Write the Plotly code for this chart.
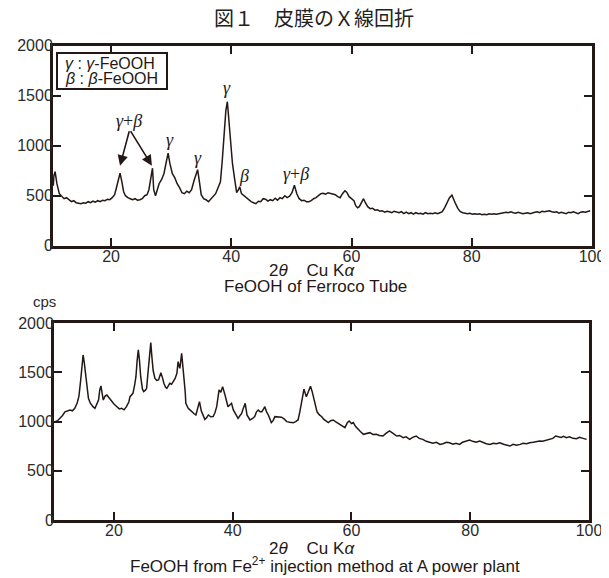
import plotly.graph_objects as go

# ---------------- data ----------------
top_x = [10.4, 10.5, 10.7, 11.0, 11.4, 11.8, 12.2, 12.6, 13.0, 13.4, 13.8, 14.2, 14.6, 15.0, 15.4, 15.8,
         16.2, 16.6, 17.0, 17.4, 17.8, 18.2, 18.6, 19.0, 19.4, 19.8, 20.2, 20.6, 20.9, 21.2, 21.5, 21.8,
         22.1, 22.4, 22.8, 23.2, 23.6, 24.0, 24.4, 24.8, 25.2, 25.6, 26.0, 26.3, 26.6, 26.9, 27.1, 27.4,
         27.7, 28.0, 28.4, 28.8, 29.2, 29.5, 29.8, 30.2, 30.6, 31.0, 31.4, 31.8, 32.2, 32.6, 33.0, 33.4,
         33.8, 34.2, 34.4, 34.7, 35.0, 35.4, 35.8, 36.2, 36.6, 37.0, 37.4, 37.8, 38.2, 38.5, 38.8, 39.1,
         39.35, 39.6, 39.9, 40.2, 40.6, 40.9, 41.2, 41.4, 41.7, 42.1, 42.5, 42.9, 43.3, 43.7, 44.1, 44.5,
         44.9, 45.3, 45.7, 46.1, 46.5, 46.9, 47.3, 47.7, 48.1, 48.5, 48.9, 49.3, 49.7, 50.1, 50.5, 50.9,
         51.3, 51.7, 52.1, 52.5, 52.9, 53.3, 53.7, 54.1, 54.5, 54.9, 55.3, 55.7, 56.1, 56.5, 56.9, 57.3,
         57.7, 58.1, 58.5, 58.9, 59.2, 59.6, 60.0, 60.4, 60.7, 61.0, 61.3, 61.6, 62.0, 62.3, 62.7, 63.1,
         63.5, 63.9, 64.3, 64.7, 65.1, 65.5, 65.9, 66.3, 66.7, 67.1, 67.5, 67.9, 68.3, 68.7, 69.1, 69.5,
         69.9, 70.3, 70.7, 71.1, 71.5, 71.9, 72.3, 72.7, 73.1, 73.5, 73.9, 74.3, 74.7, 75.1, 75.5, 75.9,
         76.3, 76.7, 77.0, 77.3, 77.7, 78.1, 78.5, 78.9, 79.3, 79.7, 80.1, 80.5, 80.9, 81.3, 81.7, 82.1,
         82.5, 82.9, 83.3, 83.7, 84.1, 84.5, 84.9, 85.3, 85.7, 86.1, 86.5, 86.9, 87.3, 87.7, 88.1, 88.5,
         88.9, 89.3, 89.7, 90.1, 90.5, 90.9, 91.3, 91.7, 92.1, 92.5, 92.9, 93.3, 93.7, 94.1, 94.5, 94.9,
         95.3, 95.7, 96.1, 96.5, 96.9, 97.3, 97.7, 98.1, 98.5, 98.9, 99.3, 99.7]
top_y = [600, 700, 740, 620, 520, 490, 470, 480, 455, 440, 450, 430, 425, 420, 430, 425,
         440, 430, 445, 435, 450, 440, 455, 450, 465, 460, 480, 510, 580, 660, 725, 640,
         540, 500, 480, 470, 460, 470, 455, 460, 470, 500, 510, 560, 680, 775, 560, 500,
         560, 620, 660, 720, 840, 925, 820, 720, 680, 620, 580, 530, 520, 545, 530, 560,
         650, 730, 760, 640, 510, 470, 460, 440, 470, 500, 520, 580, 640, 850, 1150, 1350,
         1440, 1250, 1030, 820, 650, 530, 560, 590, 520, 500, 480, 460, 440, 430, 420, 445,
         440, 470, 465, 445, 460, 450, 475, 455, 480, 470, 500, 480, 495, 530, 605, 520,
         470, 450, 455, 440, 440, 450, 470, 480, 500, 520, 525, 515, 530, 525, 520, 510,
         490, 480, 520, 550, 535, 490, 470, 450, 400, 380, 390, 420, 470, 430, 390, 370,
         375, 355, 360, 345, 350, 335, 345, 340, 330, 345, 335, 330, 340, 320, 335, 320,
         330, 315, 330, 320, 325, 315, 330, 320, 325, 320, 330, 320, 330, 340, 380, 430,
         480, 505, 470, 420, 370, 340, 330, 325, 320, 325, 315, 320, 315, 320, 310, 315,
         310, 320, 315, 320, 315, 320, 325, 330, 335, 330, 340, 330, 325, 335, 330, 320,
         325, 330, 320, 330, 335, 340, 330, 345, 340, 345, 350, 340, 335, 340, 325, 335,
         330, 320, 335, 330, 340, 330, 320, 335, 340, 335, 345, 350]

bot_x = [10.1, 10.5, 10.9, 11.3, 11.75, 12.2, 12.6, 13.0, 13.4, 13.8, 14.1, 14.4, 14.6, 14.8, 15.0, 15.3,
         15.7, 16.0, 16.2, 16.5, 16.8, 17.1, 17.4, 17.6, 17.8, 18.0, 18.2, 18.5, 18.8, 19.2, 19.6, 20.0,
         20.5, 20.9, 21.3, 21.7, 22.1, 22.5, 22.7, 23.0, 23.2, 23.5, 23.7, 23.9, 24.1, 24.3, 24.5, 24.8,
         25.0, 25.3, 25.5, 25.7, 25.9, 26.2, 26.4, 26.6, 26.9, 27.2, 27.5, 27.9, 28.2, 28.4, 28.7, 28.9,
         29.2, 29.4, 29.7, 30.0, 30.3, 30.6, 30.8, 31.0, 31.1, 31.4, 31.6, 31.8, 32.0, 32.1, 32.5, 32.8,
         33.1, 33.5, 33.8, 34.1, 34.4, 34.7, 35.0, 35.3, 35.6, 35.9, 36.3, 36.7, 37.0, 37.3, 37.7, 38.0,
         38.3, 38.5, 38.7, 39.0, 39.2, 39.5, 39.8, 40.1, 40.4, 40.7, 40.9, 41.2, 41.5, 41.8, 42.1, 42.4,
         42.9, 43.3, 43.7, 44.0, 44.3, 44.6, 44.9, 45.2, 45.4, 45.7, 46.0, 46.5, 46.8, 47.1, 47.6, 48.2,
         48.6, 49.1, 49.6, 50.2, 50.6, 51.0, 51.3, 51.6, 52.0, 52.2, 52.4, 52.7, 53.1, 53.4, 53.8, 54.2,
         54.6, 55.0, 55.3, 55.7, 56.1, 56.5, 56.9, 57.3, 57.7, 58.0, 58.5, 58.9, 59.3, 59.6, 60.0, 60.3,
         60.7, 61.1, 61.5, 62.0, 62.5, 63.1, 63.6, 64.2, 64.7, 65.3, 65.8, 66.4, 67.0, 67.6, 68.1, 68.7,
         69.2, 69.8, 70.3, 70.9, 71.4, 72.0, 72.6, 73.2, 73.7, 74.3, 74.9, 75.4, 76.0, 76.5, 77.1, 77.6,
         78.2, 78.7, 79.3, 79.9, 80.4, 81.0, 81.6, 82.2, 82.7, 83.3, 83.9, 84.4, 85.0, 85.6, 86.1, 86.7,
         87.2, 87.8, 88.4, 88.9, 89.5, 90.0, 90.6, 91.1, 91.7, 92.2, 92.8, 93.4, 93.9, 94.4, 94.8, 95.3,
         95.7, 96.2, 96.7, 97.3, 97.9, 98.4, 99.0, 99.6]
bot_y = [1000, 1010, 1035, 1060, 1100, 1110, 1118, 1110, 1135, 1190, 1260, 1424, 1580, 1678, 1600, 1424,
         1237, 1190, 1169, 1150, 1135, 1170, 1220, 1320, 1363, 1290, 1220, 1260, 1271, 1240, 1203, 1180,
         1152, 1130, 1135, 1120, 1152, 1200, 1254, 1270, 1288, 1380, 1457, 1620, 1729, 1620, 1457, 1330,
         1305, 1320, 1339, 1480, 1640, 1803, 1650, 1520, 1440, 1420, 1424, 1498, 1440, 1390, 1350, 1339,
         1370, 1390, 1380, 1407, 1440, 1491, 1610, 1560, 1542, 1695, 1580, 1457, 1300, 1186, 1135, 1120,
         1101, 1080, 1068, 1130, 1203, 1110, 1060, 1023, 1040, 1068, 1050, 1051, 1090, 1152, 1322, 1300,
         1356, 1320, 1271, 1200, 1152, 1170, 1186, 1120, 1084, 1050, 1034, 1060, 1084, 1140, 1186, 1068,
         1017, 1030, 1051, 1100, 1118, 1100, 1101, 1130, 1152, 1100, 1068, 990, 1010, 1051, 1050, 1045,
         1030, 1000, 995, 990, 1000, 1017, 1100, 1220, 1330, 1290, 1254, 1300, 1360, 1300, 1190, 1100,
         1068, 1050, 1025, 1010, 990, 1010, 1017, 1000, 985, 973, 950, 939, 990, 1006, 980, 990,
         950, 922, 900, 871, 880, 888, 870, 871, 860, 854, 880, 905, 880, 854, 860, 837,
         845, 820, 840, 854, 830, 820, 800, 786, 780, 790, 769, 775, 790, 786, 770, 780,
         769, 790, 800, 813, 800, 790, 803, 785, 775, 769, 780, 775, 786, 770, 760, 752,
         770, 760, 769, 780, 775, 786, 790, 795, 803, 800, 810, 820, 830, 854, 850, 840,
         850, 837, 845, 830, 827, 840, 830, 820]

x_tick_vals = [20, 40, 60, 80, 100]
y_tick_vals = [0, 500, 1000, 1500, 2000]

title_text = "図１　皮膜のＸ線回折"
top_caption = "FeOOH of Ferroco Tube"
bot_caption = "FeOOH from Fe<sup>2+</sup> injection method at A power plant"
axis_label = "2<i>θ</i>\u00a0\u00a0\u00a0\u00a0Cu K<i>α</i>"

# ---------------- layout helpers ----------------
W, H = 609, 578
OFF = 8   # the page body adds an 8px margin around the figure
def fx(p):
    return (p - OFF) / W
def fy(p):
    return 1 - (p - OFF) / H

INK = "#231815"
FONT = "Liberation Sans, Arial, sans-serif"

fig = go.Figure()
fig.add_trace(go.Scatter(x=top_x, y=top_y, mode="lines", xaxis="x", yaxis="y",
                         line=dict(color=INK, width=1.5), hoverinfo="skip"))
fig.add_trace(go.Scatter(x=bot_x, y=bot_y, mode="lines", xaxis="x2", yaxis="y2",
                         line=dict(color=INK, width=1.5), hoverinfo="skip"))

axis_common = dict(showline=True, linewidth=3, linecolor=INK, mirror="ticks",
                   ticks="inside", ticklen=8, tickwidth=2, tickcolor=INK,
                   showgrid=False, zeroline=False, automargin=False,
                   ticklabelstandoff=-6,
                   tickfont=dict(family=FONT, size=16, color="#2b2b2b"))

fig.update_layout(
    width=W, height=H,
    margin=dict(l=0, r=0, t=0, b=0, autoexpand=False),
    paper_bgcolor="white", plot_bgcolor="white",
    showlegend=False,
    xaxis=dict(domain=[fx(53), fx(592)], range=[10.35, 100], tickvals=x_tick_vals,
               anchor="y", **axis_common),
    yaxis=dict(domain=[fy(245.7), fy(45.7)], range=[0, 2000], tickvals=y_tick_vals,
               anchor="x", **axis_common),
    xaxis2=dict(domain=[fx(54), fx(589)], range=[9.9, 100], tickvals=x_tick_vals,
                anchor="y2", **axis_common),
    yaxis2=dict(domain=[fy(520), fy(323.3)], range=[0, 2000], tickvals=y_tick_vals,
                anchor="x2", **axis_common),
)

ann = []
def txt(x, y, s, size=17, xref="paper", yref="paper", xanchor="center", **kw):
    d = dict(x=x, y=y, xref=xref, yref=yref, text=s, showarrow=False,
             xanchor=xanchor, yanchor="middle",
             font=dict(family=FONT, size=size, color=INK))
    d.update(kw)
    ann.append(d)

# title
txt(fx(314), fy(17), title_text, font=dict(family="Noto Sans CJK JP", size=20, color="#222"))
# captions
txt(fx(312), fy(270), axis_label, size=17)
txt(fx(315), fy(286), top_caption, size=17)
txt(fx(44), fy(301), "cps", font=dict(family=FONT, size=15, color="#2b2b2b"))
txt(fx(312), fy(548), axis_label, size=17)
txt(fx(325), fy(565), bot_caption, size=17)

# legend box contents
sp = "\u00a0"
txt(fx(63), fy(63), "<i>γ</i>" + sp + ":" + sp + "<i>γ</i>-FeOOH", size=16, xanchor="left")
txt(fx(63), fy(78.5), "<i>β</i>" + sp + ":" + sp + "<i>β</i>-FeOOH", size=16, xanchor="left")

# peak labels
gfont = dict(family="Liberation Serif, Times New Roman, serif", size=18, color=INK)
peak_labels = [(23.0, 1250, "<i>γ</i>+<i>β</i>"), (29.8, 1060, "<i>γ</i>"), (34.5, 875, "<i>γ</i>"),
               (39.35, 1575, "<i>γ</i>"), (42.2, 700, "<i>β</i>"), (50.8, 715, "<i>γ</i>+<i>β</i>")]
for px_, py_, s in peak_labels:
    txt(px_, py_, s, xref="x", yref="y", font=gfont)

# arrows
for tip_x, tip_y in [(21.5, 800), (26.8, 800)]:
    ann.append(dict(x=tip_x, y=tip_y, xref="x", yref="y", ax=23.1, ay=1160,
                    axref="x", ayref="y", text="", showarrow=True, arrowhead=2,
                    arrowsize=1.3, arrowwidth=1.6, arrowcolor=INK))

fig.update_layout(annotations=ann)
fig.add_shape(type="rect", xref="paper", yref="paper", x0=fx(57), x1=fx(167),
              y0=fy(89), y1=fy(53), line=dict(color=INK, width=2), fillcolor="rgba(0,0,0,0)")

fig.write_html("out.html")
